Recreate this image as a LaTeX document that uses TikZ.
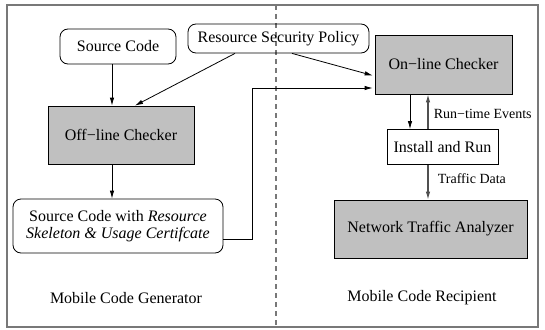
\documentclass[tikz,border=0pt]{standalone}
\usepackage{fontspec}
\setmainfont{Liberation Serif}
\newfontfamily\tnr{Liberation Serif}
\usetikzlibrary{arrows.meta,calc}
\definecolor{boxgray}{RGB}{192,192,192}
\definecolor{framegray}{RGB}{120,120,120}
\definecolor{arrgray}{RGB}{80,80,80}
\tikzset{
  txt/.style={font=\tnr\fontsize{16}{18}\selectfont},
  small/.style={font=\tnr\fontsize{14}{16}\selectfont},
  roundbox/.style={draw=black, line width=0.8pt, rounded corners=8pt, inner sep=0pt, txt, align=center},
  graybox/.style={draw=black, line width=0.8pt, fill=boxgray, inner sep=0pt, txt},
  whitebox/.style={draw=black, line width=0.8pt, fill=white, inner sep=0pt, txt},
  arr/.style={line width=0.8pt, -{Latex[length=8pt,width=4.5pt]}},
  garr/.style={line width=1.1pt, draw=arrgray, -{Latex[length=8pt,width=4.5pt]}},
}
\begin{document}
\begin{tikzpicture}[x=1pt,y=-1pt]
\useasboundingbox (0,0) rectangle (545,329);
% frame and divider
\draw[framegray, line width=1.2pt] (7,5) rectangle (538,327);
\coordinate (dtop) at (276,5);
\coordinate (dbot) at (276,327);
\draw[framegray, line width=1.2pt, dash pattern=on 5pt off 4pt] (dtop) -- (dbot);
% nodes
\node[roundbox, minimum width=116pt, minimum height=35pt] (sc) at (118,46.5) {Source Code};
\node[roundbox, minimum width=181pt, minimum height=29pt] (pol) at (278.5,38.5) {Resource Security Policy};
\node[graybox, minimum width=146pt, minimum height=58pt] (off) at (121,135) {Off−line Checker};
\node[graybox, minimum width=137pt, minimum height=59pt] (on) at (443.5,64.5) {On−line Checker};
\node[whitebox, minimum width=111pt, minimum height=35pt] (ir) at (442.5,147) {Install and Run};
\node[graybox, minimum width=193pt, minimum height=58pt] (nta) at (430.5,229) {Network Traffic Analyzer};
\node[roundbox, minimum width=210pt, minimum height=54pt] (scw) at (118,226)
  {Source Code with \textit{Resource}\\[-1pt]\textit{Skeleton \& Usage Certifcate}};
\node[txt] (gen) at (126,298) {Mobile Code Generator};
\node[txt] (rec) at (422,298) {Mobile Code Recipient};
% connectors
\draw[arr] ([xshift=-6pt]sc.south) -- ([xshift=-6pt]sc.south |- off.north);
\draw[arr] ([xshift=-43.5pt]pol.south) -- ([xshift=14pt]off.north);
\draw[arr, shorten >=2pt] ([xshift=13.5pt]pol.south) -- ([yshift=-11.5pt]on.west);
\draw[arr] ([xshift=-9pt]off.south) -- ([xshift=-9pt]off.south |- scw.north);
\coordinate (bend) at (252,88);
\draw[arr, shorten >=2pt] ([yshift=-13pt]scw.east) -| (bend) -- ([yshift=-23.5pt]on.west);
\draw[arr] ([xshift=-33.5pt]on.south) -- ([xshift=-33.5pt]on.south |- ir.north);
\draw[garr] ([xshift=-14.5pt]ir.north) -- ([xshift=-14.5pt]ir.north |- on.south)
  node[pos=0.45, right=2pt, small, text=black] (rte) {Run−time Events};
\draw[garr] ([xshift=-14.5pt]ir.south) -- ([xshift=-14.5pt]ir.south |- nta.north)
  node[pos=0.4, right=6pt, small, text=black] (td) {Traffic Data};
\end{tikzpicture}
\end{document}
